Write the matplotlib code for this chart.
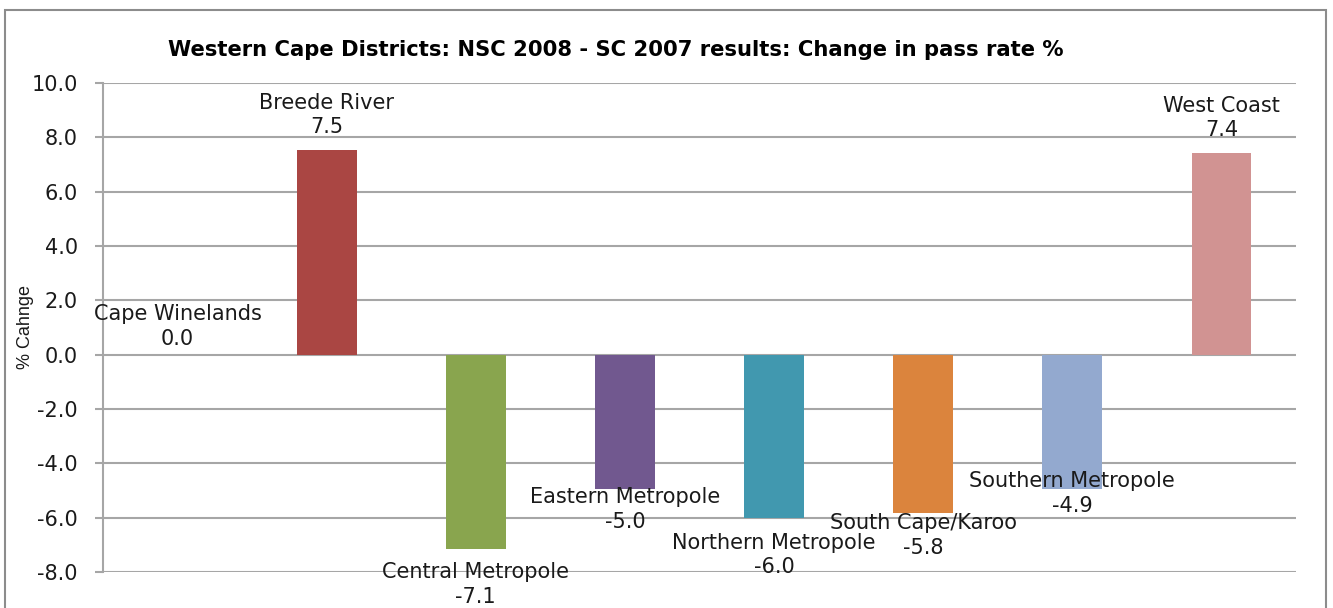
import matplotlib
matplotlib.use("Agg")
import matplotlib.pyplot as plt
from matplotlib.patches import Rectangle

# ---- data ----
districts = ["Cape Winelands", "Breede River", "Central Metropole", "Eastern Metropole",
             "Northern Metropole", "South Cape/Karoo", "Southern Metropole", "West Coast"]
change = [0.0, 7.54, -7.14, -4.96, -6.02, -5.84, -4.93, 7.43]
yticks = [-8.0, -6.0, -4.0, -2.0, 0.0, 2.0, 4.0, 6.0, 8.0, 10.0]
title = "Western Cape Districts: NSC 2008 - SC 2007 results: Change in pass rate %"
ylabel = "% Cahnge"

# ---- style ----
colors = ["#4572A7", "#AA4643", "#89A54E", "#71588F", "#4198AF", "#DB843D", "#93A9CF", "#D19392"]
label_offsets = [28, 35, -36, -20, -37, -22, -5, 35]  # pixel offsets of label block centers
grid_col = "#a6a6a6"

W, H = 1333, 608
fig = plt.figure(figsize=(W / 100, H / 100), dpi=100)
fig.patch.set_facecolor("white")

# outer chart border
fig.patches.append(Rectangle((5 / W, -0.05), (1326 - 5) / W, 1 - 10 / H + 0.05,
                             transform=fig.transFigure, fill=False,
                             edgecolor="#8c8c8c", linewidth=1.5))

ax = fig.add_axes([103 / W, 36 / H, (1296 - 103) / W, (572 - 83) / H])
x = list(range(len(districts)))
ax.bar(x, change, width=0.4, color=colors, zorder=3)
ax.set_xlim(-0.5, len(districts) - 0.5)
ax.set_ylim(-8, 10)
ax.set_yticks(yticks)
ax.set_yticklabels([f"{t:.1f}" for t in yticks], fontsize=15, family="DejaVu Sans", color="#1a1a1a")
ax.set_xticks([])
ax.yaxis.grid(True, color=grid_col, linewidth=1.5, zorder=0)
ax.set_axisbelow(True)
for s in ["top", "right", "bottom"]:
    ax.spines[s].set_visible(False)
ax.spines["left"].set_color(grid_col)
ax.spines["left"].set_linewidth(1.5)
ax.tick_params(axis="y", length=6, width=1.5, color=grid_col, pad=12)

for i, (name, v) in enumerate(zip(districts, change)):
    ax.annotate(f"{name}\n{v:.1f}", xy=(i, v), xytext=(0, label_offsets[i]),
                textcoords="offset pixels", ha="center", va="center",
                fontsize=15, family="DejaVu Sans", color="#1a1a1a",
                linespacing=1.28, annotation_clip=False, zorder=5)

fig.text(616 / W, 1 - 50 / H, title, ha="center", va="center",
         fontsize=15.2, fontweight="bold", family="DejaVu Sans", color="black")
fig.text(25 / W, 1 - 327 / H, ylabel, ha="center", va="center", rotation=90,
         fontsize=13, family="Liberation Sans", color="#1a1a1a")

fig.savefig("out.png", dpi=100)
